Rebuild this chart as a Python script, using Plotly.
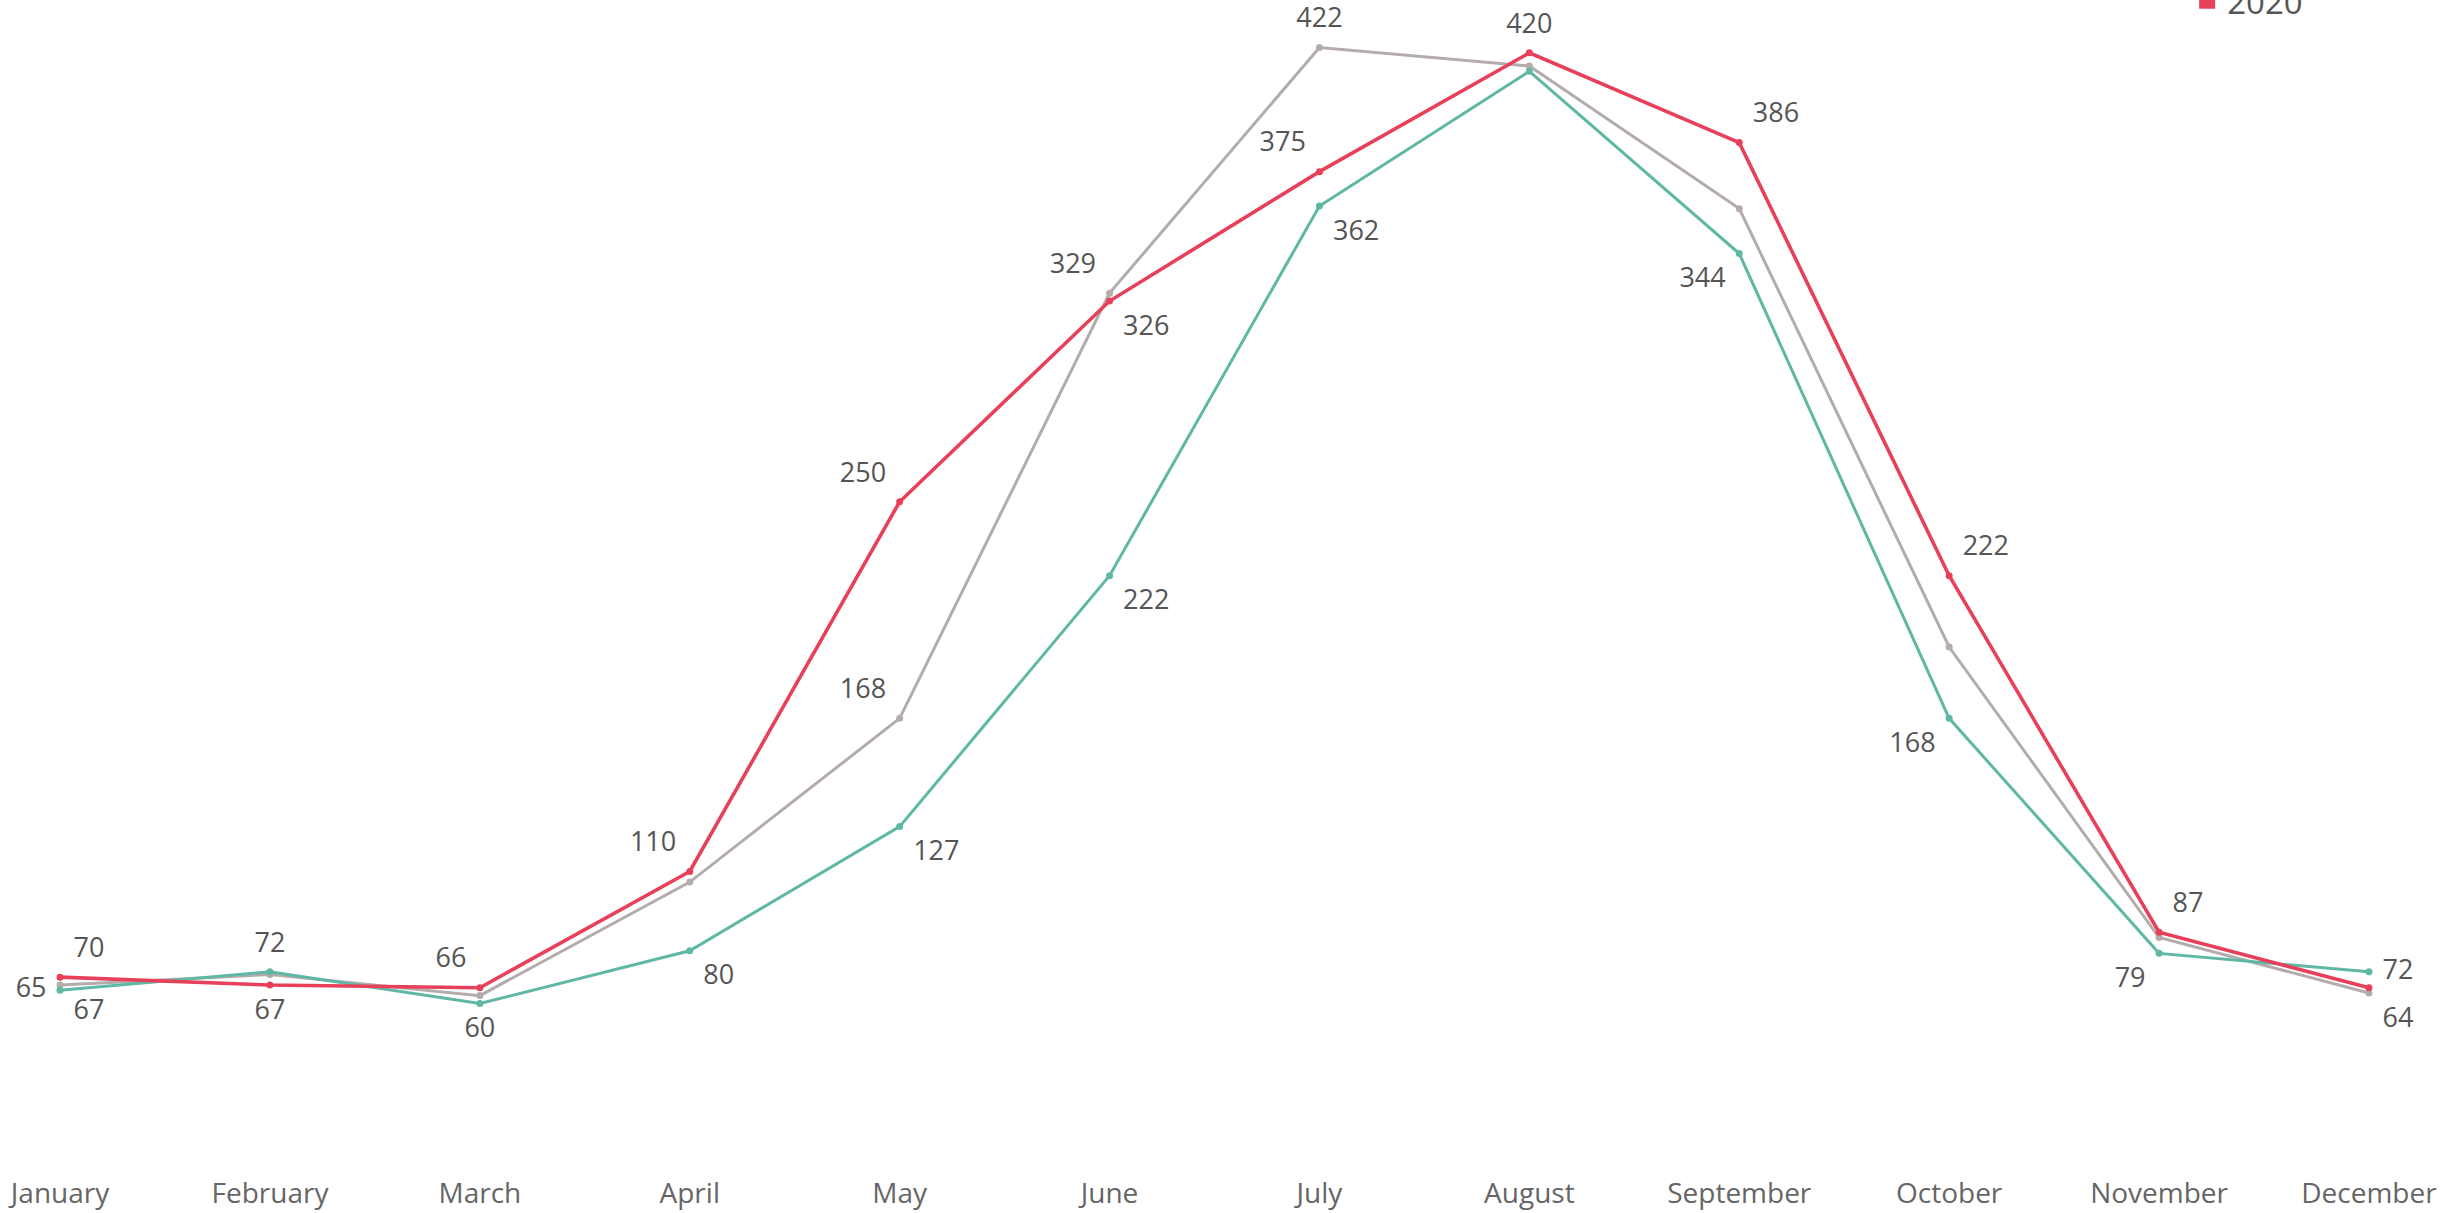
import plotly.graph_objects as go

months = ["January", "February", "March", "April", "May", "June",
          "July", "August", "September", "October", "November", "December"]

# Monthly values per year
values_2018 = [65, 72, 60, 80, 127, 222, 362, 413, 344, 168, 79, 72]
values_2019 = [67, 71, 63, 106, 168, 329, 422, 415, 361, 195, 85, 64]
values_2020 = [70, 67, 66, 110, 250, 326, 375, 420, 386, 222, 87, 66]

# Point labels (blank where no label is shown) and where they sit
labels_2018 = ["65", "72", "60", "80", "127", "222", "362", "", "344", "168", "79", "72"]
pos_2018 = ["middle left", "top center", "bottom center", "bottom right", "bottom right",
            "bottom right", "bottom right", "top center", "bottom left", "bottom left",
            "bottom left", "middle right"]
labels_2019 = ["67", "", "", "", "168", "329", "422", "", "", "", "", "64"]
pos_2019 = ["bottom right", "top center", "top center", "top center", "top left",
            "top left", "top center", "top center", "top center", "top center",
            "top center", "bottom right"]
labels_2020 = ["70", "67", "66", "110", "250", "326", "375", "420", "386", "222", "87", ""]
pos_2020 = ["top right", "bottom center", "top left", "top left", "top left",
            "bottom right", "top left", "top center", "top right", "top right",
            "top right", "top center"]

colors = {"2018": "#5fb8a4", "2019": "#b4acab", "2020": "#e8405a"}
widths = {"2018": 3, "2019": 3, "2020": 3.6}
text_color = "#555555"
font_family = "Open Sans, sans-serif"

series = [
    ("2019", values_2019, labels_2019, pos_2019),
    ("2018", values_2018, labels_2018, pos_2018),
    ("2020", values_2020, labels_2020, pos_2020),
]

fig = go.Figure()

for year, vals, labs, pos in series:
    fig.add_trace(go.Scatter(
        x=months, y=vals, mode="lines+markers", name=year,
        line=dict(color=colors[year], width=widths[year]),
        marker=dict(color=colors[year], size=7),
        showlegend=False, hoverinfo="x+y+name",
    ))

# Value labels, pushed off the points by a transparent marker
for year, vals, labs, pos in series:
    fig.add_trace(go.Scatter(
        x=months, y=vals, mode="markers+text", text=labs, textposition=pos,
        marker=dict(size=20, opacity=0),
        textfont=dict(family=font_family, size=27, color=text_color),
        showlegend=False, hoverinfo="skip",
    ))

# Legend swatches
for year in ["2018", "2019", "2020"]:
    fig.add_trace(go.Scatter(
        x=[None], y=[None], mode="markers", name=year,
        marker=dict(symbol="square", size=20, color=colors[year]),
        showlegend=True,
    ))

fig.update_layout(
    width=2463, height=1213,
    margin=dict(l=0, r=0, t=0, b=51, autoexpand=False),
    paper_bgcolor="white", plot_bgcolor="white",
    font=dict(family=font_family, size=27, color=text_color),
    legend=dict(x=0.888, xanchor="left", y=0.975, yanchor="bottom",
                font=dict(size=33, color=text_color), bgcolor="rgba(0,0,0,0)",
                itemclick=False),
    xaxis=dict(type="category", categoryorder="array", categoryarray=months,
               range=[-0.286, 11.448], showgrid=False, zeroline=False,
               showline=False, ticks="", ticklabelstandoff=12,
               tickfont=dict(size=28, color="#666666")),
    yaxis=dict(range=[0, 440], showgrid=False, zeroline=False, showline=False,
               showticklabels=False, ticks=""),
)

fig.write_html("out.html")
